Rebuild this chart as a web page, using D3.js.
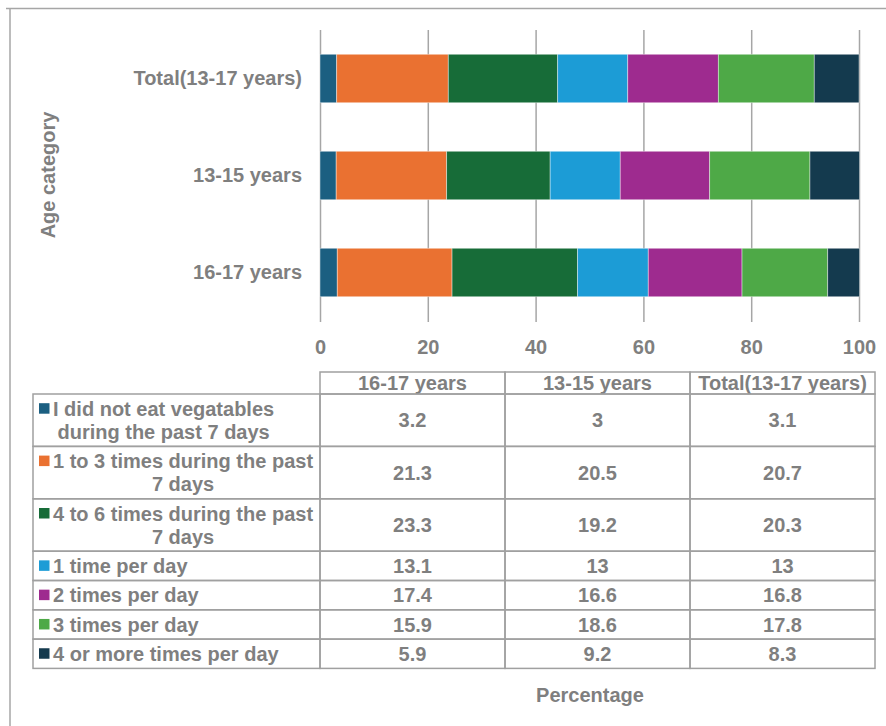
<!DOCTYPE html>
<html>
<head>
<meta charset="utf-8">
<script src="https://cdn.jsdelivr.net/npm/d3@7"></script>
<style>
  body { margin: 0; background: #fff; }
  text { font-family: "Liberation Sans", Arial, sans-serif; font-weight: bold; fill: #7f7f7f; }
</style>
</head>
<body>
<svg id="chart" width="886" height="726"></svg>
<script>
// Age groups, in table column order
const categories = ["16-17 years", "13-15 years", "Total(13-17 years)"];
// Bar order from top to bottom
const barOrder = ["Total(13-17 years)", "13-15 years", "16-17 years"];

// Frequency of vegetable eating (legend labels, split into lines)
const seriesLabels = [
  ["I did not eat vegatables", "during the past 7 days"],
  ["1 to 3 times during the past", "7 days"],
  ["4 to 6 times during the past", "7 days"],
  ["1 time per day"],
  ["2 times per day"],
  ["3 times per day"],
  ["4 or more times per day"]
];

// Percentages per age group (16-17, 13-15, Total)
const noVegetables   = [3.2, 3, 3.1];
const oneToThree     = [21.3, 20.5, 20.7];
const fourToSix      = [23.3, 19.2, 20.3];
const oncePerDay     = [13.1, 13, 13];
const twicePerDay    = [17.4, 16.6, 16.8];
const threePerDay    = [15.9, 18.6, 17.8];
const fourPlusPerDay = [5.9, 9.2, 8.3];

const xTicks = [0, 20, 40, 60, 80, 100];
const colors = ["#1b5f81", "#ea7131", "#176c38", "#1c9cd6", "#9e2b8f", "#4ea947", "#143a4e"];

const seriesValues = [noVegetables, oneToThree, fourToSix, oncePerDay, twicePerDay, threePerDay, fourPlusPerDay];
const keys = seriesLabels.map(d => d.join(" "));

// One record per age group for the stack layout
const rows = categories.map((c, ci) => {
  const r = { category: c };
  keys.forEach((k, ki) => { r[k] = seriesValues[ki][ci]; });
  return r;
});

const svg = d3.select("#chart");
const FS = 20;
const gridColor = "#a6a6a6";

svg.append("rect").attr("width", 886).attr("height", 726).attr("fill", "#fff");

// Outer frame (top and left edges)
svg.append("path")
  .attr("d", "M6,8.5H886M10,8V726")
  .attr("fill", "none").attr("stroke", gridColor).attr("stroke-width", 1.5);

// Scales
const x = d3.scaleLinear().domain([0, 100]).range([320, 859]);
const y = d3.scaleBand().domain(barOrder).range([30, 321]).paddingInner(0.5).paddingOuter(0.25);

// Vertical gridlines + tick labels
const xAxis = svg.append("g")
  .attr("transform", "translate(0,322)")
  .call(d3.axisBottom(x).tickValues(xTicks).tickSize(-292).tickPadding(18).tickFormat(d3.format("d")));
xAxis.select(".domain").remove();
xAxis.selectAll(".tick line").attr("stroke", gridColor).attr("stroke-width", 1.5);
xAxis.selectAll(".tick text").attr("font-size", FS).attr("fill", "#7f7f7f");

// Category labels
const yAxis = svg.append("g")
  .attr("transform", "translate(320,0)")
  .call(d3.axisLeft(y).tickSize(0).tickPadding(18));
yAxis.select(".domain").remove();
yAxis.selectAll(".tick text").attr("font-size", FS).attr("fill", "#7f7f7f");

// Stacked bars
const stacked = d3.stack().keys(keys)(rows);
svg.append("g").selectAll("g")
  .data(stacked)
  .join("g")
  .attr("fill", (d, i) => colors[i])
  .selectAll("rect")
  .data(d => d)
  .join("rect")
  .attr("x", d => x(d[0]))
  .attr("y", d => y(d.data.category))
  .attr("width", d => x(d[1]) - x(d[0]))
  .attr("height", y.bandwidth())
  .attr("stroke", "rgba(255,255,255,0.55)")
  .attr("stroke-width", 0.75);

// Axis titles
svg.append("text")
  .attr("transform", "translate(48,175) rotate(-90)")
  .attr("text-anchor", "middle").attr("dy", "0.35em")
  .attr("font-size", FS)
  .text("Age category");

svg.append("text")
  .attr("x", 590).attr("y", 695)
  .attr("text-anchor", "middle").attr("dy", "0.35em")
  .attr("font-size", FS)
  .text("Percentage");

// Data table
const col = d3.scaleBand().domain(categories).range([320, 875]);
const tableLeft = 33, headerTop = 372, headerBottom = 394;
const lineGap = 23;
const rowH = n => n === 2 ? 52.4 : 29.3;
const table = svg.append("g");
const cellStroke = { stroke: "#a0a0a0", width: 1.5 };

// Header
categories.forEach(c => {
  table.append("rect")
    .attr("x", col(c)).attr("y", headerTop)
    .attr("width", col.bandwidth()).attr("height", headerBottom - headerTop)
    .attr("fill", "none").attr("stroke", cellStroke.stroke).attr("stroke-width", cellStroke.width);
  table.append("text")
    .attr("x", col(c) + col.bandwidth() / 2).attr("y", (headerTop + headerBottom) / 2)
    .attr("dy", "0.36em").attr("text-anchor", "middle").attr("font-size", FS)
    .text(c);
});

// Body rows
let rowTop = headerBottom;
seriesLabels.forEach((lines, si) => {
  const h = rowH(lines.length);
  const mid = rowTop + h / 2;
  // legend cell
  table.append("rect")
    .attr("x", tableLeft).attr("y", rowTop)
    .attr("width", 320 - tableLeft).attr("height", h)
    .attr("fill", "none").attr("stroke", cellStroke.stroke).attr("stroke-width", cellStroke.width);
  const firstY = mid - (lines.length - 1) / 2 * lineGap;
  table.append("rect")
    .attr("x", 39).attr("y", firstY - 5.5)
    .attr("width", 10.5).attr("height", 10.5)
    .attr("fill", colors[si]);
  const tg = table.append("g");
  const texts = lines.map((ln, li) => tg.append("text")
    .attr("y", firstY + li * lineGap).attr("dy", "0.36em")
    .attr("text-anchor", "middle").attr("font-size", FS)
    .text(ln));
  const maxW = d3.max(texts, t => t.node().getComputedTextLength());
  texts.forEach(t => t.attr("x", 53 + maxW / 2));
  // value cells
  categories.forEach((c, ci) => {
    table.append("rect")
      .attr("x", col(c)).attr("y", rowTop)
      .attr("width", col.bandwidth()).attr("height", h)
      .attr("fill", "none").attr("stroke", cellStroke.stroke).attr("stroke-width", cellStroke.width);
    table.append("text")
      .attr("x", col(c) + col.bandwidth() / 2).attr("y", mid)
      .attr("dy", "0.36em").attr("text-anchor", "middle").attr("font-size", FS)
      .text(seriesValues[si][ci]);
  });
  rowTop += h;
});
</script>
</body>
</html>
